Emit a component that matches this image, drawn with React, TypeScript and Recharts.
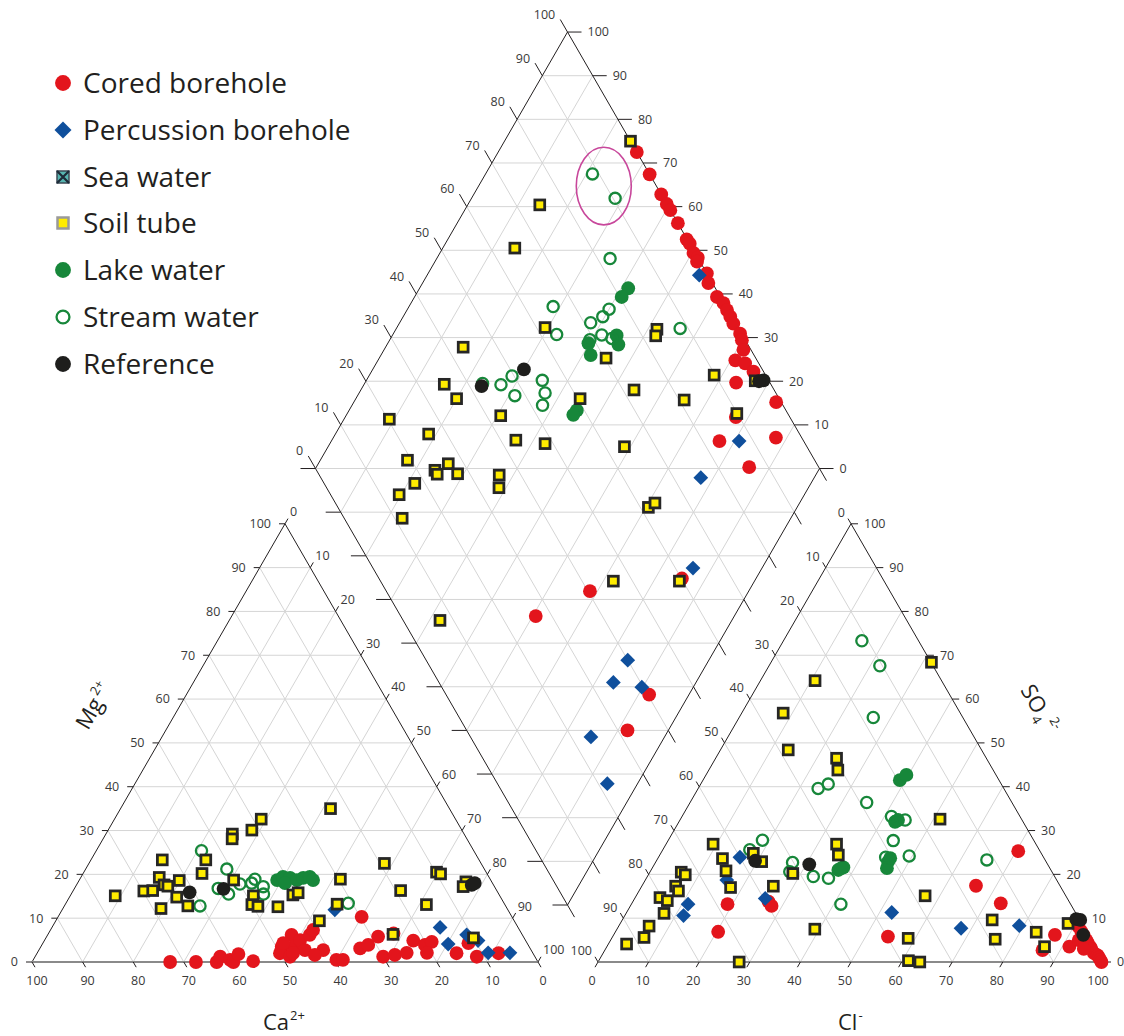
import React from "react";
import { ScatterChart, Scatter, XAxis, YAxis, ReferenceLine } from "recharts";

const W = 1124;
const H = 1036;
const FONT = "'Open Sans', 'Noto Sans', sans-serif";

// ---- cation triangle values: [Ca2+ %, Mg2+ %]
const cationCored = [
  [72.7, 0], [67.6, 0], [63.5, 0], [62.2, 1.2], [60.6, 0.5], [60.2, 0], [58.3, 1.8], [56.2, 0.2],
  [48.9, 3.5], [50.0, 2.0], [45.6, 6.2], [46.6, 3.5], [48.4, 1.2], [48.2, 4.3], [44.5, 5.0],
  [42.0, 6.2], [40.8, 7.3], [44.7, 2.7], [47.4, 2.0], [41.1, 2.7], [43.3, 1.6], [39.6, 0.5],
  [38.3, 0.5], [29.7, 10.3], [33.6, 3.1], [31.6, 3.9], [28.7, 5.8], [30.0, 1.2], [25.3, 6.5],
  [27.5, 1.6], [24.9, 2.1], [22.2, 4.9], [20.4, 3.9], [18.7, 4.6], [20.9, 2.1], [15.1, 2.0],
  [11.6, 4.3], [11.5, 1.2], [6.8, 2.0],
];
const cationPercussion = [
  [34.2, 11.9], [15.4, 7.9], [15.7, 4.1], [11.0, 6.2], [9.4, 4.9], [8.8, 2.1], [4.5, 2.1],
];
const cationSoil = [
  [76.0, 15.1], [62.6, 23.3], [69.8, 16.2], [68.0, 16.3], [65.2, 19.3], [65.1, 17.6], [64.5, 17.3],
  [61.6, 18.6], [68.4, 12.2], [64.0, 14.8], [62.8, 12.8], [56.3, 20.2], [54.0, 23.3], [45.8, 29.2],
  [46.4, 28.1], [41.5, 30.1], [38.4, 32.6], [50.8, 18.7], [48.7, 15.1], [50.0, 13.1], [49.0, 12.7],
  [45.1, 12.6], [40.8, 15.3], [39.5, 15.8], [23.5, 35.0], [19.1, 22.5], [29.6, 18.9], [19.0, 16.3],
  [15.5, 13.1], [33.1, 13.2], [38.5, 9.4], [25.5, 6.3], [9.8, 20.5], [9.2, 20.1], [5.1, 18.3],
  [6.2, 17.2], [10.0, 5.5],
];
const cationLake = [
  [42.2, 18.7], [40.7, 19.4], [39.4, 19.2], [41.0, 18.0], [38.3, 18.7], [36.8, 19.2], [35.4, 19.4],
  [35.1, 18.7],
];
const cationStream = [
  [53.8, 25.4], [60.4, 12.8], [50.9, 21.2], [54.8, 16.8], [53.4, 15.5], [50.0, 17.8], [47.6, 18.0],
  [46.5, 18.9], [45.7, 17.2], [46.5, 15.5], [30.8, 13.4],
];
const cationReference = [[60.9, 15.9], [53.8, 16.7], [4.3, 17.6], [3.5, 18.0]];

// ---- anion triangle values: [Cl- %, SO4 2- %]
const anionCored = [
  [19.0, 13.2], [20.3, 6.9], [26.8, 13.8], [27.9, 12.8], [54.4, 5.8], [70.4, 25.3], [66.0, 17.4],
  [72.9, 13.4], [87.2, 6.2], [91.4, 3.5], [86.5, 2.7], [91, 8], [92, 7], [93, 6], [94, 5],
  [94.5, 4.5], [95.5, 3.5], [96, 3], [97, 2], [98, 1.5], [98.5, 1], [99, 0.5], [99.5, 0],
  [92.5, 5], [94.5, 3],
];
const anionPercussion = [
  [16.1, 23.9], [16.1, 18.7], [11.2, 13.2], [11.6, 10.6], [25.8, 14.5], [52.4, 11.3], [67.9, 7.7],
  [79.1, 8.3],
];
const anionSoil = [
  [9.3, 26.9], [12.8, 23.6], [14.9, 20.8], [17.7, 17.0], [18.3, 24.8], [20.9, 22.9], [6.2, 20.5],
  [7.3, 19.9], [6.7, 17.3], [7.8, 16.2], [4.9, 14.7], [6.7, 14.0], [7.5, 11.1], [6.0, 8.2],
  [6.3, 5.6], [3.6, 4.1], [27.9, 0], [26.0, 17.3], [28.4, 20.2], [39.1, 7.5], [33.7, 26.9],
  [35.3, 24.4], [51.3, 32.6], [57.1, 15.1], [58.6, 5.4], [61.2, 0.3], [63.6, 0], [73.1, 9.6],
  [75.9, 5.2], [83.2, 6.8], [86.5, 3.5], [88.5, 8.8], [31.7, 68.4], [10.8, 64.2], [8.2, 56.8],
  [13.4, 48.4], [23.9, 46.5], [25.5, 43.8],
];
const anionLake = [
  [37.0, 21.0], [37.7, 21.6], [37.4, 21.4], [38.9, 41.5], [39.6, 42.7], [42.7, 32.0], [43.1, 32.4],
  [45.9, 22.9], [46.4, 21.4], [45.9, 23.7],
];
const anionStream = [
  [18.6, 27.8], [27.1, 22.7], [27.6, 20.6], [32.8, 19.5], [36.0, 19.1], [41.4, 13.2], [23.7, 39.6],
  [25.2, 40.6], [17.2, 25.6], [34.9, 36.4], [41.4, 33.2], [44.5, 32.4], [44.5, 27.7], [44.9, 23.9],
  [49.4, 24.2], [65.2, 23.3], [15.5, 73.3], [21.9, 67.6], [26.5, 55.8],
];
const anionReference = [[19.5, 23.1], [30.6, 22.3], [89.6, 9.8], [90.5, 9.6], [92.8, 6.2]];

// ---- diamond values: [Cl- + SO4 2- %, Ca2+ + Mg2+ %]
const diamondCored = [
  [100, 72.5], [100, 67.4], [100, 62.8], [100, 60.6], [100, 59.2], [100, 56.2], [99.9, 52.6],
  [100, 51.5], [99.7, 49.7], [100, 48.3], [99.4, 48.0], [100, 44.7], [99.2, 43.3], [99.3, 40.0],
  [99.9, 38.0], [99.8, 36.5], [99.7, 35.1], [99.5, 33.7], [99.7, 31.2], [99.3, 30.1], [98.5, 28.7],
  [95.7, 29.1], [97.3, 26.8], [98.0, 24.2], [93.3, 26.4], [99.0, 16.2], [89.3, 22.5], [83.3, 23.0],
  [94.9, 12.2], [86.2, 14.1], [40.4, 31.5], [26.8, 39.4], [60.1, 14.7], [40.3, 7.9], [31.9, 8.1],
];
const diamondPercussion = [
  [98.3, 46.0], [87.2, 19.1], [75.4, 22.5], [63.5, 13.7], [40.0, 16.1], [34.6, 16.4], [39.7, 10.2],
  [23.9, 14.6], [21.8, 6.0],
];
const diamondSoil = [
  [74.7, 85.7], [64.8, 85.7], [100, 75.0], [83.7, 48.2], [82.7, 47.7], [70.3, 55.0], [43.2, 84.6],
  [61.7, 70.6], [89.8, 31.6], [81.0, 34.7], [72.2, 45.8], [63.8, 41.2], [89.9, 22.7], [97.3, 22.8],
  [42.8, 69.3], [43.0, 63.5], [48.4, 57.3], [60.5, 55.5], [20.3, 91.0], [26.4, 81.5], [35.2, 84.1],
  [36.0, 80.0], [19.2, 82.7], [26.9, 74.2], [23.5, 76.1], [23.5, 75.2], [27.6, 71.2], [18.0, 78.6],
  [13.6, 80.4], [35.7, 62.8], [34.2, 61.4], [11.5, 77.1], [7.3, 57.9], [46.2, 28.0], [59.3, 14.9],
  [61.6, 29.5], [63.4, 28.7],
];
const diamondLake = [
  [82.7, 58.6], [80.4, 58.9], [75.0, 55.5], [74.3, 54.1], [67.6, 58.4], [68.5, 60.2], [58.5, 54.8],
  [57.3, 55.0],
];
const diamondStream = [
  [88.7, 78.8], [90.4, 71.5], [82.5, 65.6], [88.4, 43.7], [76.5, 60.0], [74.4, 60.4], [71.3, 62.1],
  [72.1, 58.5], [73.7, 56.1], [69.2, 60.3], [42.9, 76.6], [65.7, 71.4], [63.2, 67.5], [46.4, 72.8],
  [49.6, 71.6], [47.9, 68.8], [55.1, 65.1], [54.2, 63.1], [52.3, 62.2],
];
const diamondReference = [[42.4, 76.5], [52.7, 70.0], [99.0, 21.2], [98.0, 22.0]];

// the two circled stream samples (index in diamondStream)
const highlighted = [0, 1];

const tickValues = [0, 10, 20, 30, 40, 50, 60, 70, 80, 90, 100];

const legendItems = [
  "Cored borehole",
  "Percussion borehole",
  "Sea water",
  "Soil tube",
  "Lake water",
  "Stream water",
  "Reference",
];

// ---- geometry
type Pt = { x: number; y: number };
const SIDE = 506;
const TRI_H = (SIDE * Math.sqrt(3)) / 2;
const CAT_ORIGIN = { x: 32, y: 962 };
const AN_ORIGIN = { x: 598, y: 962 };
const DIA_BOTTOM = { x: 567.5, y: 905 };
const DIA_SIDE = 504;
const DIA_H = (DIA_SIDE * Math.sqrt(3)) / 2;
const C60 = 0.5;
const S60 = Math.sqrt(3) / 2;

const cationXY = (ca: number, mg: number): Pt => ({
  x: CAT_ORIGIN.x + (SIDE * (100 - ca - mg / 2)) / 100,
  y: CAT_ORIGIN.y - (TRI_H * mg) / 100,
});
const anionXY = (cl: number, so4: number): Pt => ({
  x: AN_ORIGIN.x + (SIDE * (cl + so4 / 2)) / 100,
  y: AN_ORIGIN.y - (TRI_H * so4) / 100,
});
const diamondXY = (s: number, m: number): Pt => ({
  x: DIA_BOTTOM.x + ((DIA_SIDE / 2) * (s - m)) / 100,
  y: DIA_BOTTOM.y - (DIA_H * (s + m)) / 100,
});
const off = (p: Pt, dx: number, dy: number): Pt => ({ x: p.x + dx, y: p.y + dy });

const RED = "#e3151c";
const BLUE = "#0f4f9c";
const GREEN = "#17873a";
const YELLOW = "#ffec00";
const BLACK = "#1e1e1c";
const GRID = "#d5d5d5";
const EDGE = "#231f20";
const BASE = "#8a8a8a";

type Seg = { a: Pt; b: Pt; color: string; width: number };
const segs: Seg[] = [];
const add = (a: Pt, b: Pt, color = GRID, width = 1) => segs.push({ a, b, color, width });

for (let v = 10; v < 100; v += 10) {
  add(cationXY(100 - v, v), cationXY(0, v));
  add(cationXY(v, 0), cationXY(v, 100 - v));
  add(cationXY(100 - v, 0), cationXY(0, 100 - v));
  add(anionXY(0, v), anionXY(100 - v, v));
  add(anionXY(v, 0), anionXY(v, 100 - v));
  add(anionXY(100 - v, 0), anionXY(0, 100 - v));
  add(diamondXY(v, 0), diamondXY(v, 100));
  add(diamondXY(0, v), diamondXY(100, v));
}
for (let c = 10; c < 200; c += 10) {
  if (c <= 100) add(diamondXY(0, c), diamondXY(c, 0));
  else add(diamondXY(c - 100, 100), diamondXY(100, c - 100));
}

// outlines
add(cationXY(100, 0), cationXY(0, 100), EDGE);
add(cationXY(0, 100), cationXY(0, 0), EDGE);
add(cationXY(100, 0), cationXY(0, 0), BASE, 2.2);
add(anionXY(0, 0), anionXY(0, 100), EDGE);
add(anionXY(0, 100), anionXY(100, 0), EDGE);
add(anionXY(0, 0), anionXY(100, 0), BASE, 2.2);
add(diamondXY(0, 0), diamondXY(100, 0), EDGE);
add(diamondXY(100, 0), diamondXY(100, 100), EDGE);
add(diamondXY(100, 100), diamondXY(0, 100), EDGE);
add(diamondXY(0, 100), diamondXY(0, 0), EDGE);

type Lab = { x: number; y: number; text: string; anchor: string };
const tickLabels: Lab[] = [];
const TK = 6;
const DT = 14.5;
tickValues.forEach((v) => {
  const t = String(v);
  let p = cationXY(v, 0);
  add(p, off(p, C60 * TK, S60 * TK), EDGE);
  tickLabels.push({ x: p.x + 5, y: 981, text: t, anchor: "middle" });
  p = cationXY(100 - v, v);
  add(p, off(p, -TK, 0), EDGE);
  tickLabels.push({ x: p.x - 14, y: p.y, text: t, anchor: "end" });
  p = cationXY(0, 100 - v);
  add(p, off(p, C60 * TK, -S60 * TK), EDGE);
  tickLabels.push({ x: p.x + 5, y: p.y - 12, text: t, anchor: "start" });

  p = anionXY(v, 0);
  add(p, off(p, -C60 * TK, S60 * TK), EDGE);
  tickLabels.push({ x: p.x - 6, y: 981, text: t, anchor: "middle" });
  p = anionXY(100 - v, v);
  add(p, off(p, 7, 0), EDGE);
  tickLabels.push({ x: p.x + 13, y: p.y, text: t, anchor: "start" });
  p = anionXY(0, 100 - v);
  add(p, off(p, -C60 * TK, -S60 * TK), EDGE);
  tickLabels.push({ x: p.x - 6, y: p.y - 11, text: t, anchor: "end" });

  p = diamondXY(v, 100);
  let e = off(p, -C60 * DT, -S60 * DT);
  add(p, e, EDGE);
  tickLabels.push({ x: e.x - 5, y: e.y - 5, text: t, anchor: "end" });
  p = diamondXY(100, v);
  e = off(p, 14, 0);
  add(p, e, EDGE);
  tickLabels.push({ x: e.x + 6, y: e.y, text: t, anchor: "start" });
  p = diamondXY(0, v);
  add(p, off(p, -15, 0), EDGE);
  p = diamondXY(v, 0);
  add(p, off(p, C60 * 14, S60 * 14), EDGE);
});

const titles = [
  { x: 263, y: 1029.5, rot: 0, main: "Ca", sup: "2+", sub: "" },
  { x: 838, y: 1029.5, rot: 0, main: "Cl", sup: "-", sub: "" },
  { x: 88, y: 731, rot: -60, main: "Mg", sup: "2+", sub: "" },
  { x: 1020, y: 690, rot: 60, main: "SO", sup: "2-", sub: "4" },
];

const series = [
  { name: "Cored borehole", data: [...cationCored.map(([a, b]) => cationXY(a, b)), ...anionCored.map(([a, b]) => anionXY(a, b)), ...diamondCored.map(([a, b]) => diamondXY(a, b))] },
  { name: "Percussion borehole", data: [...cationPercussion.map(([a, b]) => cationXY(a, b)), ...anionPercussion.map(([a, b]) => anionXY(a, b)), ...diamondPercussion.map(([a, b]) => diamondXY(a, b))] },
  { name: "Lake water", data: [...cationLake.map(([a, b]) => cationXY(a, b)), ...anionLake.map(([a, b]) => anionXY(a, b)), ...diamondLake.map(([a, b]) => diamondXY(a, b))] },
  { name: "Stream water", data: [...cationStream.map(([a, b]) => cationXY(a, b)), ...anionStream.map(([a, b]) => anionXY(a, b)), ...diamondStream.map(([a, b]) => diamondXY(a, b))] },
  { name: "Soil tube", data: [...cationSoil.map(([a, b]) => cationXY(a, b)), ...anionSoil.map(([a, b]) => anionXY(a, b)), ...diamondSoil.map(([a, b]) => diamondXY(a, b))] },
  { name: "Reference", data: [...cationReference.map(([a, b]) => cationXY(a, b)), ...anionReference.map(([a, b]) => anionXY(a, b)), ...diamondReference.map(([a, b]) => diamondXY(a, b))] },
];

const hl = highlighted.map((i) => diamondStream[i]);
const ellipseCenter = [
  diamondXY(
    hl.reduce((s, d) => s + d[0], 0) / hl.length,
    hl.reduce((s, d) => s + d[1], 0) / hl.length
  ),
];

function marker(name: string, cx: number, cy: number, big = false) {
  const k = big ? 1.15 : 1;
  switch (name) {
    case "Cored borehole":
      return <circle cx={cx} cy={cy} r={6.9 * k} fill={RED} />;
    case "Percussion borehole": {
      const d = 7.4 * k;
      return <polygon points={`${cx},${cy - d} ${cx + d},${cy} ${cx},${cy + d} ${cx - d},${cy}`} fill={BLUE} />;
    }
    case "Sea water":
      return (
        <g>
          <rect x={cx - 6} y={cy - 6} width={12} height={12} fill="#57b5b0" stroke="#3c4a55" strokeWidth={1.5} />
          <path d={`M${cx - 6},${cy - 6}L${cx + 6},${cy + 6}M${cx + 6},${cy - 6}L${cx - 6},${cy + 6}`} stroke="#1d2b38" strokeWidth={2.2} />
        </g>
      );
    case "Soil tube":
      return big ? (
        <rect x={cx - 5.5} y={cy - 5.5} width={11} height={11} fill={YELLOW} stroke="#9a9a9a" strokeWidth={2.5} />
      ) : (
        <rect x={cx - 4.9} y={cy - 4.9} width={9.8} height={9.8} fill={YELLOW} stroke="#262626" strokeWidth={2.8} />
      );
    case "Lake water":
      return <circle cx={cx} cy={cy} r={6.9 * k} fill={GREEN} />;
    case "Stream water":
      return <circle cx={cx} cy={cy} r={5.6 * k} fill="none" stroke={GREEN} strokeWidth={2.3} />;
    default:
      return <circle cx={cx} cy={cy} r={6.9 * k} fill={BLACK} />;
  }
}

function TickText(props: any) {
  const { cx, cy, payload } = props;
  return (
    <text x={cx} y={cy + 4.4} textAnchor={payload.anchor} fontSize={12.5} fill="#3a3a3a" fontFamily={FONT}>
      {payload.text}
    </text>
  );
}

function TitleText(props: any) {
  const { cx, cy, payload } = props;
  return (
    <text
      x={cx}
      y={cy}
      fontSize={22}
      fill="#231f20"
      fontFamily={FONT}
      transform={payload.rot ? `rotate(${payload.rot} ${cx} ${cy})` : undefined}
    >
      {payload.main}
      {payload.sub ? (
        <tspan dy={5} dx={1} fontSize={13}>
          {payload.sub}
        </tspan>
      ) : null}
      <tspan dy={payload.sub ? -15 : -9.5} dx={payload.rot ? 3 : 1} fontSize={13}>
        {payload.sup}
      </tspan>
    </text>
  );
}

function Legend() {
  return (
    <div style={{ position: "absolute", left: 0, top: 0, fontFamily: FONT }}>
      {legendItems.map((name, i) => {
        const cy = 83 + i * 46.8;
        return (
          <div key={name}>
            <svg width={24} height={24} style={{ position: "absolute", left: 51, top: cy - 12 }}>
              {marker(name, 12, 12, true)}
            </svg>
            <div
              style={{
                position: "absolute",
                left: 83,
                top: cy - 15,
                fontSize: 28,
                lineHeight: "28px",
                color: "#231f20",
                whiteSpace: "nowrap",
              }}
            >
              {name}
            </div>
          </div>
        );
      })}
    </div>
  );
}

export default function App() {
  return (
    <div style={{ position: "absolute", left: 0, top: 0, width: W, height: H, background: "#fff" }}>
      <ScatterChart width={W} height={H} margin={{ top: 0, right: 0, bottom: 0, left: 0 }}>
        <XAxis type="number" dataKey="x" domain={[0, W]} hide allowDataOverflow />
        <YAxis type="number" dataKey="y" domain={[0, H]} reversed hide allowDataOverflow />
        {segs.map((s, i) => (
          <ReferenceLine
            key={i}
            segment={[{ x: s.a.x, y: s.a.y }, { x: s.b.x, y: s.b.y }]}
            stroke={s.color}
            strokeWidth={s.width}
            ifOverflow="visible"
          />
        ))}
        {series.map((s) => (
          <Scatter
            key={s.name}
            data={s.data}
            isAnimationActive={false}
            shape={(p: any) => marker(s.name, p.cx, p.cy)}
          />
        ))}
        <Scatter
          data={ellipseCenter}
          isAnimationActive={false}
          shape={(p: any) => (
            <ellipse cx={p.cx} cy={p.cy} rx={27.5} ry={38.8} fill="none" stroke="#c8479b" strokeWidth={1.6} />
          )}
        />
        <Scatter data={tickLabels} isAnimationActive={false} shape={(p: any) => <TickText {...p} />} />
        <Scatter data={titles} isAnimationActive={false} shape={(p: any) => <TitleText {...p} />} />
      </ScatterChart>
      <Legend />
    </div>
  );
}
